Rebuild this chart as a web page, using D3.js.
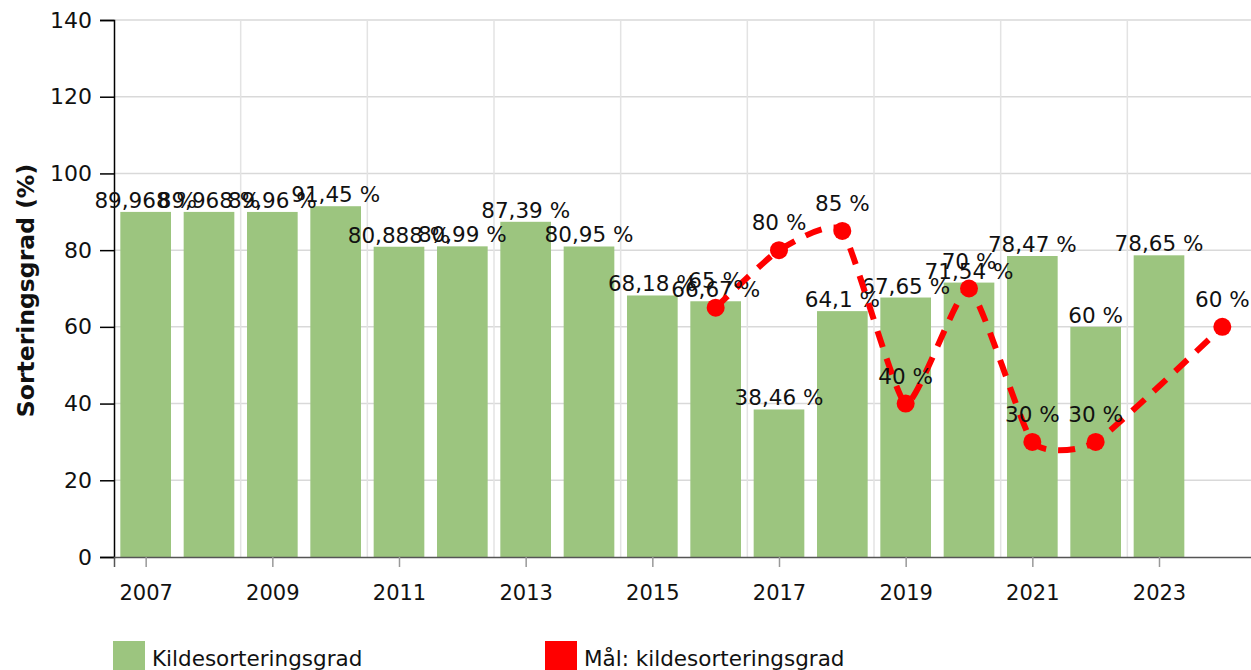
<!DOCTYPE html>
<html>
<head>
<meta charset="utf-8">
<script src="https://cdn.jsdelivr.net/npm/d3@7"></script>
<style>
  html, body { margin: 0; padding: 0; background: #fff; }
  svg { display: block; font-family: "DejaVu Sans", Verdana, sans-serif; }
</style>
</head>
<body>
<svg id="chart" width="1251" height="670"></svg>
<script>
// Data
const barYears = [2007, 2008, 2009, 2010, 2011, 2012, 2013, 2014, 2015, 2016, 2017, 2018, 2019, 2020, 2021, 2022, 2023];
const barValues = [89.968, 89.968, 89.96, 91.45, 80.888, 80.99, 87.39, 80.95, 68.18, 66.67, 38.46, 64.1, 67.65, 71.54, 78.47, 60, 78.65];
const goalYears = [2016, 2017, 2018, 2019, 2020, 2021, 2022, 2024];
const goalValues = [65, 80, 85, 40, 70, 30, 30, 60];
const yTicks = [0, 20, 40, 60, 80, 100, 120, 140];
const xTickYears = [2007, 2009, 2011, 2013, 2015, 2017, 2019, 2021, 2023];
const gridYears = [2008.5, 2010.5, 2012.5, 2014.5, 2016.5, 2018.5, 2020.5, 2022.5];

const fmt = v => String(v).replace('.', ',') + ' %';

const svg = d3.select('#chart');
const plot = { left: 114, right: 1254, top: 20, bottom: 557 };

const x = d3.scaleLinear().domain([2006.5, 2024.5]).range([plot.left, plot.right]);
const y = d3.scaleLinear().domain([0, 140]).range([plot.bottom, plot.top]);
const step = x(2008) - x(2007);
const barW = step * 0.8;

// Grid
const grid = svg.append('g');
grid.selectAll('line.h')
    .data(yTicks.filter(d => d > 0))
    .join('line')
    .attr('class', 'h')
    .attr('x1', plot.left).attr('x2', 1251)
    .attr('y1', d => y(d)).attr('y2', d => y(d))
    .attr('stroke', '#d9d9d9').attr('stroke-width', 1.5);
grid.selectAll('line.v')
    .data(gridYears)
    .join('line')
    .attr('class', 'v')
    .attr('x1', d => x(d)).attr('x2', d => x(d))
    .attr('y1', plot.top).attr('y2', plot.bottom)
    .attr('stroke', '#e3e3e3').attr('stroke-width', 1.5);

// Bars
svg.append('g')
    .selectAll('rect')
    .data(barYears.map((yr, i) => ({ yr, v: barValues[i] })))
    .join('rect')
    .attr('x', d => x(d.yr) - barW / 2)
    .attr('y', d => y(d.v))
    .attr('width', barW)
    .attr('height', d => y(0) - y(d.v))
    .attr('fill', '#9cc57f');

// Y axis
const yAxis = svg.append('g')
    .attr('transform', `translate(${plot.left},0)`)
    .call(d3.axisLeft(y).tickValues(yTicks).tickSize(14).tickPadding(8));
yAxis.select('.domain').attr('stroke', '#000').attr('stroke-width', 1.5);
yAxis.selectAll('.tick line').attr('stroke', '#000').attr('stroke-width', 1.5);
yAxis.selectAll('.tick text').attr('font-size', 22).attr('fill', '#111')
    .attr('font-family', '"DejaVu Sans", sans-serif');

// X axis
const xAxis = svg.append('g')
    .attr('transform', `translate(0,${plot.bottom})`)
    .call(d3.axisBottom(x).tickValues(xTickYears).tickFormat(d3.format('d')).tickSize(10).tickPadding(18));
xAxis.select('.domain').attr('stroke', '#555').attr('stroke-width', 1.5);
xAxis.selectAll('.tick line').attr('stroke', '#999').attr('stroke-width', 1.5);
xAxis.selectAll('.tick text').attr('font-size', 21).attr('fill', '#111')
    .attr('font-family', '"DejaVu Sans", sans-serif');

// Y title
svg.append('text')
    .attr('transform', `translate(34,${(plot.top + plot.bottom) / 2 + 2}) rotate(-90)`)
    .attr('text-anchor', 'middle')
    .attr('font-size', 23.5)
    .attr('font-weight', 'bold')
    .attr('fill', '#111')
    .text('Sorteringsgrad (%)');

// Bar labels
svg.append('g')
    .selectAll('text')
    .data(barYears.map((yr, i) => ({ yr, v: barValues[i] })))
    .join('text')
    .attr('x', d => x(d.yr))
    .attr('y', d => y(d.v) - 4)
    .attr('text-anchor', 'middle')
    .attr('font-size', 21.5)
    .attr('fill', '#111')
    .text(d => fmt(d.v));

// Goal line
const goal = goalYears.map((yr, i) => ({ yr, v: goalValues[i] }));
svg.append('path')
    .datum(goal)
    .attr('fill', 'none')
    .attr('stroke', '#ff0000')
    .attr('stroke-width', 6)
    .attr('stroke-dasharray', '17,12')
    .attr('d', d3.line().x(d => x(d.yr)).y(d => y(d.v)).curve(d3.curveCardinal.tension(0.5)));

svg.append('g')
    .selectAll('circle')
    .data(goal)
    .join('circle')
    .attr('cx', d => x(d.yr))
    .attr('cy', d => y(d.v))
    .attr('r', 9)
    .attr('fill', '#ff0000');

svg.append('g')
    .selectAll('text')
    .data(goal)
    .join('text')
    .attr('x', d => x(d.yr))
    .attr('y', d => y(d.v) - 20)
    .attr('text-anchor', 'middle')
    .attr('font-size', 21.5)
    .attr('fill', '#111')
    .text(d => fmt(d.v));

// Legend
const legend = [
    { label: 'Kildesorteringsgrad', color: '#9cc57f', x: 113 },
    { label: 'Mål: kildesorteringsgrad', color: '#ff0000', x: 545 }
];
const lg = svg.append('g').selectAll('g').data(legend).join('g')
    .attr('transform', d => `translate(${d.x},641)`);
lg.append('rect').attr('width', 32).attr('height', 32).attr('fill', d => d.color);
lg.append('text')
    .attr('x', 39).attr('y', 25)
    .attr('font-size', 21.5)
    .attr('fill', '#111')
    .text(d => d.label);
</script>
</body>
</html>
